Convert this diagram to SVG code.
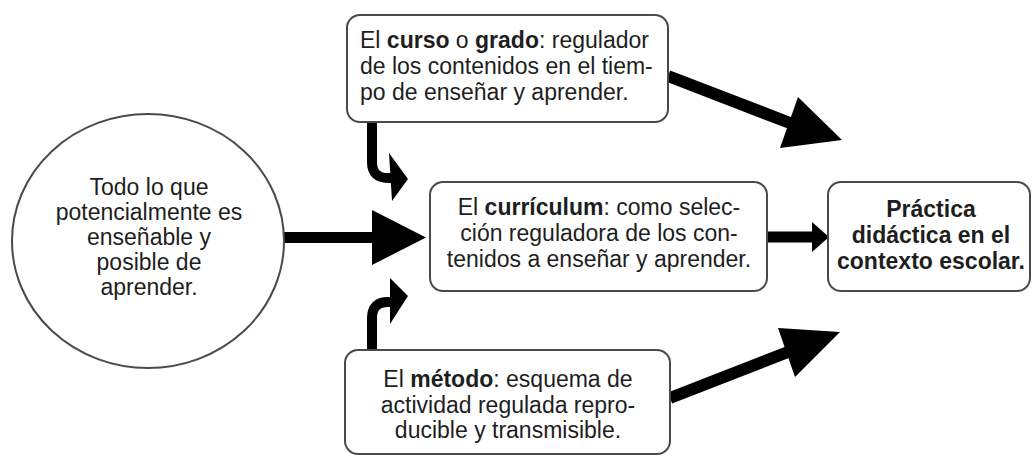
<svg xmlns="http://www.w3.org/2000/svg" width="1032" height="456" viewBox="0 0 1032 456">
<style>
.node{fill:#fff;stroke:#4a4a4a;stroke-width:2}
.t{font-family:"Liberation Sans",Arial,Helvetica,sans-serif;font-size:23px;fill:#1e1e1e}
.c{text-anchor:middle}
.b{font-weight:bold}
.ln{fill:none;stroke:#000;stroke-linecap:butt}
.ah{fill:#000}
</style>
<rect width="1032" height="456" fill="#fff"/>
<g id="connectors">
  <!-- circle to curriculum -->
  <line class="ln" x1="284" y1="237.5" x2="374" y2="237.5" stroke-width="11"/>
  <polygon class="ah" points="372,210 426,237.5 372,265"/>
  <!-- curriculum to practica -->
  <line class="ln" x1="767" y1="237" x2="814" y2="237" stroke-width="11"/>
  <polygon class="ah" points="812,222 829,237 812,252"/>
  <!-- curso to practica -->
  <line class="ln" x1="668" y1="76" x2="790" y2="123" stroke-width="12"/>
  <polygon class="ah" points="798,97 842,140 780,148"/>
  <!-- metodo to practica -->
  <line class="ln" x1="670" y1="398" x2="788" y2="352" stroke-width="12"/>
  <polygon class="ah" points="778,328 840,332 795,377"/>
  <!-- curso to curriculum (curved) -->
  <path class="ln" d="M372,122 V162 Q372,178 388,178 H392" stroke-width="10"/>
  <polygon class="ah" points="389,153 408,179 392,201"/>
  <!-- metodo to curriculum (curved) -->
  <path class="ln" d="M372,350 V318 Q372,302 388,302 H392" stroke-width="10"/>
  <polygon class="ah" points="390,278 408,296 390,324"/>
</g>
<g id="node-todo">
  <ellipse class="node" cx="148" cy="241" rx="136" ry="127"/>
  <text class="t c" x="149" y="195">Todo lo que</text>
  <text class="t c" x="149" y="220">potencialmente es</text>
  <text class="t c" x="149" y="245">enseñable y</text>
  <text class="t c" x="149" y="270">posible de</text>
  <text class="t c" x="149" y="295">aprender.</text>
</g>
<g id="node-curso">
  <rect class="node" x="347" y="15" width="321" height="107" rx="13"/>
  <text class="t" x="360" y="48">El <tspan class="b">curso</tspan> o <tspan class="b">grado</tspan>: regulador</text>
  <text class="t" x="360" y="74">de los contenidos en el tiem-</text>
  <text class="t" x="360" y="100">po de enseñar y aprender.</text>
</g>
<g id="node-curriculum">
  <rect class="node" x="430" y="182" width="337" height="109" rx="13"/>
  <text class="t c" x="599" y="215">El <tspan class="b">currículum</tspan>: como selec-</text>
  <text class="t c" x="599" y="241">ción reguladora de los con-</text>
  <text class="t c" x="599" y="267">tenidos a enseñar y aprender.</text>
</g>
<g id="node-practica">
  <rect class="node" x="828" y="182" width="202" height="109" rx="13"/>
  <text class="t c b" x="931" y="217">Práctica</text>
  <text class="t c b" x="931" y="243">didáctica en el</text>
  <text class="t c b" x="931" y="269">contexto escolar.</text>
</g>
<g id="node-metodo">
  <rect class="node" x="345" y="350" width="325" height="104" rx="13"/>
  <text class="t c" x="508" y="387">El <tspan class="b">método</tspan>: esquema de</text>
  <text class="t c" x="508" y="413">actividad regulada repro-</text>
  <text class="t c" x="508" y="438">ducible y transmisible.</text>
</g>
</svg>
